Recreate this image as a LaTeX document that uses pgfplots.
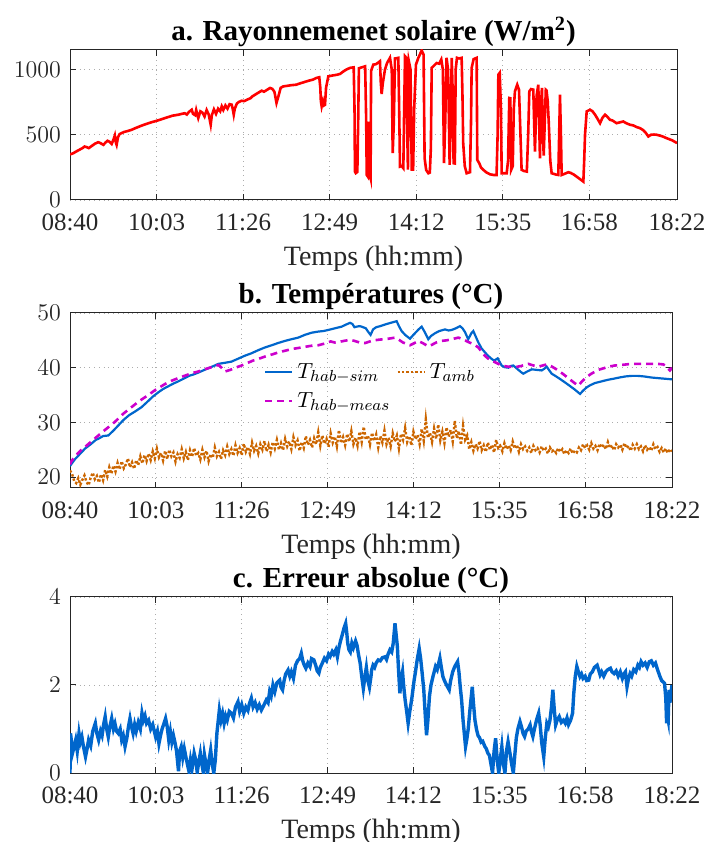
\documentclass[border=0pt]{standalone}
\usepackage{fontspec}
\setmainfont{Liberation Serif}
\usepackage{pgfplots}
\pgfplotsset{compat=1.18}

\definecolor{solred}{RGB}{255,0,0}
\definecolor{simblue}{RGB}{0,102,204}
\definecolor{measmag}{RGB}{204,0,204}
\definecolor{amborange}{RGB}{204,102,0}
\definecolor{axgray}{RGB}{38,38,38}

\pgfplotsset{
 mstyle/.style={
  scale only axis,
  anchor=south west,
  xmin=0, xmax=582,
  xtick={0,83,166,249,332,415,498,582},
  xticklabels={\textrm{08:40},\textrm{10:03},\textrm{11:26},\textrm{12:49},\textrm{14:12},\textrm{15:35},\textrm{16:58},\textrm{18:22}},
  yticklabel={\textrm{\pgfmathprintnumber[1000 sep={}]{\tick}}},
  tick align=inside,
  major tick length=3pt,
  grid=major,
  major grid style={dotted, gray!65, line width=0.45pt},
  axis line style={axgray, line width=0.5pt},
  tick style={axgray, line width=0.5pt},
  ticklabel style={font=\fontsize{12.5}{13}\selectfont, text=axgray},
  xticklabel style={yshift=-3.5pt},
  yticklabel style={xshift=-1pt},
  label style={font=\fontsize{14}{15}\selectfont, text=axgray},
  title style={font=\bfseries\fontsize{14.5}{15}\selectfont, yshift=-8pt},
  xlabel={Temps (hh:mm)},
  xlabel style={yshift=-0.5pt},
  clip=true,
 }
}

\begin{document}
\begin{tikzpicture}
\useasboundingbox (0,0) rectangle (354pt,421pt);

% ---------------- a. solar radiation
\begin{axis}[mstyle, at={(35pt,321pt)}, width=303.5pt, height=75pt,
  ymin=0, ymax=1150, ytick={0,500,1000},
  title={a. Rayonnemenet solaire (W/m\textsuperscript{2})}]
\addplot[solred, line width=1.3pt] coordinates {
(0,349)(3,358)(6,372)(9,385)(12,398)(14,410)(16,405)(18,398)(21,415)(24,432)(27,443)(29,437)(32,423)(34,440)(36,454)(38,446)(40,430)(42,470)(43,495)(44,440)(44.7,423)(46,480)(47.5,505)(49.5,513)(52,522)(55,528)(59,538)(63,552)(67,565)(71,577)(75,588)(79,598)(83,607)(87,617)(91,628)(95,638)(98,646)(101,650)(104,654)(107,660)(110,665)(112,655)(114,675)(116.7,692)(118,660)(120,650)(121,690)(123,628)(125,680)(127,670)(129,640)(131,690)(133,655)(134.9,577)(136,650)(138,695)(140,660)(142,700)(144,680)(145.5,718)(147,690)(149,725)(151,700)(153,735)(155,731)(156,700)(157,654)(158,700)(160,740)(162,752)(164.6,761)(167,758)(170,770)(173,780)(175,795)(177.4,807)(180,820)(183.8,838)(186,830)(189,845)(191.8,859)(194,852)(196,830)(198,744)(200,800)(202,860)(204.5,871)(208,875)(212,880)(217,884)(221,895)(225,905)(229,915)(233,923)(236,935)(239,941)(240,860)(240.5,760)(241.3,718)(242.5,760)(243.5,725)(244.5,730)(245.5,860)(247.7,948)(252,955)(256,960)(259,967)(262,985)(265,1000)(268.5,1013)(272,1017)(272.8,700)(273.2,218)(274,206)(275.5,215)(276.3,600)(277,1010)(279,1015)(281,1020)(283,1025)(284,600)(284.5,192)(285.5,180)(286.5,600)(287,185)(287.7,188)(288.2,170)(288.7,990)(290.8,1038)(293,1040)(295,1050)(297.2,1064)(298,900)(298.8,812)(300,900)(302,1000)(304,1050)(306.8,1090)(308.5,1000)(309.4,359)(310.5,600)(311.6,1085)(314.8,1090)(315.6,700)(316.4,256)(318,260)(319.6,244)(320.4,700)(321.2,1102)(322.5,1090)(323.2,600)(324,233)(325,1060)(326.5,1000)(327.2,500)(327.7,233)(329,233)(330,700)(331.7,1038)(334,1090)(337.2,1146)(339,1115)(340,320)(341.5,230)(343.6,205)(345,210)(346,400)(346.8,1013)(349,1030)(351.5,1050)(354,1045)(356,1077)(357.5,1000)(358.6,282)(359.8,600)(361,1090)(362.5,1000)(364,270)(365,600)(366,1090)(367,800)(367.8,282)(369,280)(369.8,1000)(371,1090)(373,1085)(375.5,1090)(376.3,800)(377,436)(378.5,260)(380.3,205)(383.5,213)(384.5,600)(385.1,1013)(387,1080)(389.9,1090)(390.5,308)(392.5,280)(394,250)(396.3,231)(399.5,210)(402.7,197)(406,192)(409,192)(410,500)(410.7,961)(412,975)(413.2,700)(413.9,205)(416,205)(418.7,205)(420,300)(421.2,782)(422.2,780)(423,231)(424.5,260)(425.5,700)(426.6,833)(428.8,884)(430.5,845)(431.5,600)(433,231)(435.5,222)(438,218)(439.3,500)(440.4,833)(442,850)(444.2,846)(445,600)(445.8,371)(446.6,600)(447.4,800)(449,884)(449.8,600)(450.6,320)(451.4,700)(452.5,860)(453.5,500)(454.2,340)(455.2,600)(456.2,845)(456.9,840)(458,760)(459,600)(460.5,300)(461.8,205)(464,200)(466,195)(468.2,192)(469,500)(469.8,807)(470.7,500)(471.4,192)(474,200)(477.8,213)(480,208)(483,195)(485.8,179)(489,160)(492.2,141)(493,300)(493.8,499)(495.4,679)(498.6,692)(501,680)(503.5,653)(506,620)(508.2,589)(510.5,630)(513,654)(515,640)(517.7,615)(520,610)(524,589)(527,595)(530.5,602)(533,590)(536.9,577)(540,572)(543,560)(546.5,551)(549.7,535)(552,515)(554.5,487)(557,500)(560,502)(562.5,500)(565,495)(568,488)(572,474)(575,465)(578,455)(582,436)
};
\end{axis}

% ---------------- b. temperatures
\begin{axis}[mstyle, at={(35pt,177pt)}, width=301pt, height=87.5pt,
  ymin=18, ymax=50, ytick={20,30,40,50},
  title={b. Températures (°C)},
  legend columns=2,
  legend style={at={(0.318,0.75)}, anchor=north west, draw=none, fill=none,
    font=\fontsize{11}{12}\selectfont, row sep=1.5pt, inner sep=1pt,
    /tikz/every even column/.append style={column sep=1pt}},
  legend cell align=left,
  legend image code/.code={\draw[#1] (0pt,0pt) -- (13.5pt,0pt);}]
\addplot[simblue, line width=1.1pt] coordinates {
(0,22.0)(1,22.3)(5,23.3)(10,24.3)(14.5,25.2)(20,26.0)(25,26.8)(27.4,27.0)(32,27.5)(37,27.6)(42,28.5)(47,29.5)(51.5,30.4)(57,31.3)(63,32.0)(69.3,32.8)(75,33.8)(80,34.7)(85.4,35.5)(90,36.1)(95,36.6)(100,37.1)(104.7,37.5)(110,38.0)(115,38.5)(120,38.8)(124,39.1)(130,39.6)(135,40.0)(140,40.4)(143.4,40.7)(150,40.9)(156,41.1)(162,41.6)(169.2,42.2)(175,42.6)(182,43.2)(188.5,43.7)(195,44.1)(201,44.5)(207.9,44.9)(214,45.2)(220.7,45.5)(227,46.0)(233.7,46.4)(240,46.6)(245,46.7)(249.7,46.9)(256,47.2)(262.6,47.5)(267,47.9)(270.7,48.2)(273,48.0)(275,47.4)(277,47.5)(280,47.6)(282,47.5)(286,47.2)(288.5,46.5)(290.6,46.0)(293,47.0)(296,47.4)(300,47.6)(304.6,47.9)(310,48.2)(315.8,48.5)(318,47.6)(320.6,46.7)(324,46.0)(328.7,45.3)(331,45.8)(333.5,46.3)(337,47.0)(340,47.5)(343,46.5)(346.4,45.2)(349,45.8)(352.9,46.3)(357,46.7)(362.6,47.0)(366,46.8)(369,46.9)(373,47.2)(377,47.6)(379.5,47.2)(381.9,46.5)(385,45.2)(388,46.3)(389.9,46.7)(392,45.8)(394.8,44.6)(398,43.5)(401.2,42.8)(404,42.2)(407.7,41.6)(410,41.3)(413.5,41.7)(415.5,41.0)(417.3,40.4)(420,40.1)(423.8,40.0)(426,40.3)(428.6,40.4)(431,40.0)(433.5,39.6)(436,39.2)(438.3,38.9)(442,39.3)(446.4,39.7)(451,39.6)(456,39.5)(458.5,39.8)(460.8,40.2)(463,39.6)(465.7,38.9)(470,38.4)(474,37.9)(478.6,37.3)(483,36.7)(488,36.0)(493.1,35.2)(496,35.8)(499.5,36.4)(503,36.8)(507.6,37.2)(512,37.4)(516,37.6)(520.4,37.8)(526,38.0)(531,38.2)(537,38.4)(543,38.5)(549,38.5)(555,38.4)(562.3,38.2)(568,38.1)(574,38.0)(580,37.9)(582,37.9)
};
\addlegendentry{$T_{hab-sim}$}
\addplot[amborange, line width=1.2pt, densely dotted] coordinates {
(0,21.2)(2,20.6)(4,19.3)(6,18.9)(8,19.8)(10,18.6)(12,19.5)(14,20.3)(16,19.1)(18,18.5)(20,19.9)(22,20.8)(24,19.6)(26,20.2)(28,19.0)(30,20.5)(32,19.4)(34,21.3)(36,20.1)(38,21.8)(40,20.6)(42,22.1)(44,21.0)(46,22.6)(48,21.4)(50,22.9)(52,21.6)(54,22.3)(56,23.4)(58,21.8)(60,22.7)(62,21.5)(64,23.1)(66,22.2)(68,23.8)(70,22.5)(72,24.0)(74,22.9)(76,24.3)(78,23.1)(80,24.7)(82,23.4)(84,25.2)(86,23.6)(88,24.4)(90,23.0)(92,24.8)(94,23.3)(96,25.0)(98,23.8)(100,24.5)(102,22.8)(104,24.2)(106,23.5)(108,25.1)(110,23.4)(112,24.6)(114,23.1)(116,24.9)(118,23.7)(120,25.3)(122,23.9)(124,24.4)(126,23.2)(128,25.0)(130,23.6)(132,24.8)(134,22.9)(136,24.2)(138,23.5)(140,25.4)(142,23.8)(144,24.6)(146,23.3)(148,24.9)(150,24.0)(152,25.6)(154,24.2)(156,25.1)(158,23.9)(160,25.8)(162,24.4)(164,25.3)(166,24.0)(168,26.1)(170,24.6)(172,25.5)(174,24.2)(176,26.3)(178,24.8)(180,25.7)(182,24.3)(184,26.0)(186,25.0)(188,26.6)(190,24.7)(192,25.9)(194,24.5)(196,26.4)(198,25.2)(200,26.8)(202,25.0)(204,26.2)(206,24.9)(208,27.0)(210,25.6)(212,26.5)(214,25.1)(216,27.3)(218,25.8)(220,26.7)(222,24.8)(224,26.4)(226,25.3)(228,27.5)(230,25.9)(232,26.8)(234,25.4)(236,27.1)(238,26.0)(240,28.2)(242,25.7)(244,27.6)(246,26.1)(248,27.0)(250,25.5)(252,28.0)(254,26.3)(256,27.4)(258,25.6)(260,28.6)(262,26.2)(264,27.3)(266,25.8)(268,27.9)(270,26.5)(272,28.4)(274,26.0)(276,27.2)(278,25.7)(280,28.3)(282,26.4)(284,29.2)(286,26.8)(288,27.6)(290,25.9)(292,28.1)(294,26.6)(296,27.8)(298,25.4)(300,27.5)(302,26.3)(304,28.5)(306,26.0)(308,27.2)(310,25.6)(312,28.0)(314,26.5)(316,27.6)(318,25.2)(320,27.9)(322,26.8)(324,29.0)(326,26.4)(328,27.5)(330,25.8)(332,28.3)(334,26.9)(336,27.7)(338,26.0)(340,28.8)(342,26.6)(344,30.6)(346,27.2)(348,28.1)(350,26.4)(352,28.9)(354,27.0)(356,29.6)(358,26.7)(360,28.3)(362,26.2)(364,29.1)(366,27.4)(368,28.6)(370,26.5)(372,30.3)(374,27.1)(376,28.4)(378,25.9)(380,29.4)(382,26.8)(384,27.6)(386,25.1)(388,26.4)(390,24.8)(392,26.0)(394,25.2)(396,26.6)(398,24.9)(400,25.8)(402,24.6)(404,26.3)(406,25.0)(408,25.9)(410,24.5)(412,26.8)(414,25.3)(416,25.7)(418,24.7)(420,26.2)(422,25.1)(424,25.8)(426,24.9)(428,26.5)(430,25.2)(432,25.9)(434,24.6)(436,26.0)(438,25.1)(440,25.6)(442,24.8)(444,25.4)(446,24.4)(448,25.7)(450,24.9)(452,25.3)(454,24.5)(456,25.6)(458,24.8)(460,25.2)(462,24.3)(464,25.4)(466,24.7)(468,25.0)(470,24.4)(472,25.3)(474,24.6)(476,25.1)(478,24.2)(480,24.9)(482,24.4)(484,25.2)(486,24.3)(488,24.8)(490,24.5)(492,25.4)(494,24.9)(496,26.0)(498,25.3)(500,25.8)(502,25.0)(504,26.2)(506,25.2)(508,25.7)(510,24.9)(512,26.1)(514,25.4)(516,25.9)(518,25.1)(520,26.4)(522,25.3)(524,25.8)(526,24.9)(528,26.0)(530,25.4)(532,25.9)(534,25.0)(536,26.2)(538,25.3)(540,25.7)(542,24.8)(544,25.9)(546,25.2)(548,26.0)(550,25.1)(552,25.6)(554,24.7)(556,25.8)(558,25.0)(560,25.5)(562,24.8)(564,26.0)(566,25.1)(568,25.5)(570,24.6)(572,25.3)(574,24.5)(576,25.2)(578,24.4)(580,25.1)(582,24.7)
};
\addlegendentry{$T_{amb}$}
\addplot[measmag, line width=1.3pt, dash pattern=on 3.5pt off 2.5pt] coordinates {
(0,22.3)(1,22.8)(5,23.8)(10,24.8)(14.5,25.5)(20,26.4)(27.4,27.6)(35,28.8)(43.5,30.1)(51,31.5)(59.6,32.8)(67,33.9)(75.7,35.0)(83,36.0)(91.8,37.0)(98,37.6)(104.7,38.1)(112,38.6)(118,39.0)(124,39.3)(130,39.7)(137,40.1)(143.4,40.5)(146,40.1)(149.8,39.3)(155,39.6)(160,40.0)(165.9,40.4)(172,40.9)(177,41.3)(182,41.6)(188,42.0)(195,42.4)(201.4,42.8)(208,43.1)(214,43.4)(220.7,43.6)(227,43.8)(233,44.0)(240,44.1)(246,44.4)(252,44.8)(256,44.6)(259.4,44.7)(265,44.9)(270.7,45.1)(275,44.9)(280,44.6)(285.2,44.5)(290,44.8)(294,45.0)(298,45.1)(303,45.2)(308,45.3)(314.2,45.5)(318,45.1)(322,44.6)(328.7,44.1)(332,44.4)(336.8,44.9)(341,44.5)(346.4,43.9)(350,44.2)(354,44.6)(359.3,44.9)(364,45.0)(369,45.2)(375.4,45.5)(380,45.2)(385,44.7)(390,44.3)(394.8,43.7)(398,42.9)(401,42.2)(404,41.7)(407.7,41.3)(412,40.9)(417.3,40.4)(423,40.2)(430.3,40.1)(436,40.3)(443.1,40.7)(448,40.4)(452.8,40.2)(457,40.4)(460.8,40.6)(465,40.3)(468.5,39.9)(472.1,39.5)(477,38.8)(481,38.2)(485,37.6)(488.5,37.1)(491.4,36.7)(495,37.5)(499.5,38.3)(504,38.9)(510.7,39.6)(516,39.9)(521,40.2)(526.8,40.4)(533,40.5)(538,40.6)(543,40.7)(550,40.7)(556,40.7)(562.3,40.7)(568,40.7)(573.6,40.6)(576,40.3)(578.5,39.8)(580,39.5)(582,40.0)
};
\addlegendentry{$T_{hab-meas}$}
\end{axis}

% ---------------- c. absolute error
\begin{axis}[mstyle, at={(35pt,34.5pt)}, width=301pt, height=88pt,
  ymin=0, ymax=4, ytick={0,2,4},
  title={c. Erreur absolue (°C)}]
\addplot[simblue, line width=1.7pt] coordinates {
(0,0.0)(0.5,0.9)(1.5,0.7)(2.4,0.45)(4,0.6)(5.5,0.75)(7,0.5)(8.7,0.9)(10,0.7)(11.5,0.82)(13,0.6)(15,0.37)(16.5,0.55)(18,0.75)(20,0.62)(22,0.95)(24.5,1.13)(26,0.9)(27.7,0.75)(29.5,0.95)(31,0.85)(32.5,1.1)(34,1.28)(35.5,1.0)(37,0.82)(38.5,1.05)(40.3,1.24)(42,1.0)(43.5,1.12)(45,0.95)(46.7,0.9)(48.5,1.0)(50,0.75)(51.5,0.85)(53.2,0.6)(55,0.8)(56.5,1.05)(58,1.24)(59.5,1.05)(61,0.9)(62.5,1.1)(64,0.95)(66,1.15)(68,1.0)(69.6,1.36)(71,1.2)(72.5,1.3)(74,1.13)(76,1.2)(78,1.0)(80,1.1)(82.8,0.82)(84.5,0.95)(86,0.67)(87.5,0.85)(89,1.0)(90.5,1.1)(92.4,1.24)(94,1.05)(95.5,0.75)(97,0.95)(98.5,0.7)(100,0.85)(101.7,0.67)(103,0.5)(104.9,0.04)(106,0.5)(107.5,0.6)(109,0.35)(110.5,0.55)(112,0.37)(113.5,0.2)(115,0.04)(116.5,0.3)(118,0.1)(120,0.45)(121.5,0.3)(123,0.02)(124.5,0.25)(126,0.45)(127.5,0.2)(129,0.0)(130,0.41)(131.5,0.2)(133,0.0)(134.5,0.3)(136,0.52)(137.5,0.2)(139,0.0)(140.5,0.3)(142,0.9)(144.4,1.43)(146,1.2)(147.5,1.35)(149,1.13)(150.5,1.3)(152,1.2)(154,1.4)(156,1.36)(158,1.25)(160,1.5)(162.4,1.62)(164,1.4)(166,1.55)(168,1.36)(170,1.5)(172,1.42)(173.5,1.58)(175.3,1.7)(177,1.5)(179,1.6)(181,1.45)(183,1.55)(185,1.43)(187,1.52)(189.8,1.66)(191.5,1.6)(193,1.85)(194.5,1.75)(196.2,2.0)(198,1.85)(200,2.05)(202.7,2.11)(204,1.95)(205.5,1.89)(207,2.1)(208.5,2.25)(210.8,2.34)(212.5,2.2)(214,2.3)(216,2.15)(218,2.45)(220,2.55)(222,2.6)(223.6,2.72)(225,2.55)(226.5,2.45)(228,2.38)(230,2.5)(232,2.42)(233.5,2.6)(235.8,2.57)(237.5,2.45)(239,2.32)(240.6,2.27)(242,2.4)(244,2.5)(246,2.61)(248,2.55)(250,2.7)(251.5,2.65)(253.5,2.76)(255,2.7)(257,2.8)(258.5,2.64)(260,2.85)(261.5,3.0)(263.2,3.14)(265,3.3)(266.5,3.4)(267.5,3.2)(268.5,2.95)(269.7,2.8)(271,2.75)(272.5,2.95)(274,2.85)(276.1,3.0)(277.5,2.9)(279,2.68)(280.5,2.5)(282,2.2)(283.6,1.92)(285.2,2.2)(286.5,2.4)(288,2.1)(289.5,1.95)(291,2.2)(291.6,2.34)(293,2.45)(294.5,2.4)(296,2.5)(298,2.57)(300,2.55)(302,2.62)(304.5,2.64)(306,2.58)(307.5,2.7)(309.3,2.8)(311,2.75)(312.5,2.95)(314.2,3.4)(315.5,3.1)(316.5,2.87)(317.5,2.4)(318.9,1.81)(320,2.1)(321.5,2.3)(322.5,2.0)(324,1.66)(325.5,1.4)(326.9,1.13)(328.5,1.4)(330.5,1.7)(332.7,2.11)(334,2.3)(335.5,2.55)(337.6,2.83)(339,2.6)(340.5,2.26)(342,1.9)(343.5,1.3)(344.7,0.86)(346,1.2)(347.5,1.74)(349,2.0)(351,2.2)(353.4,2.42)(355,2.35)(357.6,2.61)(359,2.4)(360.5,2.19)(362,2.1)(364,2.0)(366.6,1.89)(368,2.1)(370,2.3)(372,2.42)(374.7,2.53)(376,2.3)(377.3,1.95)(378.6,1.66)(380,1.2)(382.4,0.6)(383.5,0.75)(385,1.0)(386.5,1.4)(388.9,1.96)(390,1.6)(391.5,1.2)(393.1,0.98)(394.5,0.85)(396,0.8)(397.5,0.7)(399,0.72)(401.1,0.6)(402.5,0.55)(404,0.45)(405.5,0.4)(407,0.2)(408.5,0.0)(410,0.5)(411.5,0.79)(413,0.3)(414.5,0.0)(416,0.3)(417.5,0.6)(419,0.2)(420.5,0.0)(422,0.5)(423.5,0.71)(425,0.5)(427,0.2)(428.6,0.0)(430,0.4)(431.5,0.8)(433,1.0)(435,1.17)(436.5,1.05)(438,0.9)(439.5,0.83)(441,0.95)(443,1.0)(444.8,1.09)(446,0.95)(447.5,0.83)(449,1.0)(451,1.2)(453.1,1.36)(454.5,1.1)(456,0.7)(458,0.37)(459.5,0.8)(461,1.13)(462.5,1.05)(464,1.2)(465.5,1.5)(466.8,1.89)(468,1.5)(469.5,1.09)(471,1.2)(473,1.28)(475,1.15)(477,1.2)(478.8,1.13)(480.5,1.25)(482,1.1)(484,1.2)(485.9,1.36)(487,1.8)(488.5,2.2)(490,2.42)(491.5,2.3)(493,2.19)(494.5,2.25)(496,2.15)(498,2.2)(499.5,2.1)(501.5,2.11)(503,2.25)(505,2.3)(507,2.4)(509.6,2.45)(511,2.35)(512.5,2.23)(514,2.3)(516,2.2)(518,2.3)(520,2.35)(522.5,2.38)(524,2.3)(526,2.26)(528,2.32)(530,2.2)(532,2.3)(534,2.15)(535.5,2.25)(537,2.3)(538.5,1.96)(540,2.15)(541.5,2.26)(543,2.2)(545,2.35)(547,2.3)(549,2.45)(550.5,2.4)(552.1,2.53)(554,2.45)(556,2.5)(558,2.4)(560.1,2.53)(562,2.55)(564,2.45)(566,2.5)(568,2.35)(570.4,2.19)(572,2.1)(574.8,2.04)(576,1.7)(576.8,1.13)(577.5,1.3)(578.3,1.2)(579.1,1.89)(580,1.6)(581,1.8)(582,2.0)
};
\end{axis}
\end{tikzpicture}
\end{document}
